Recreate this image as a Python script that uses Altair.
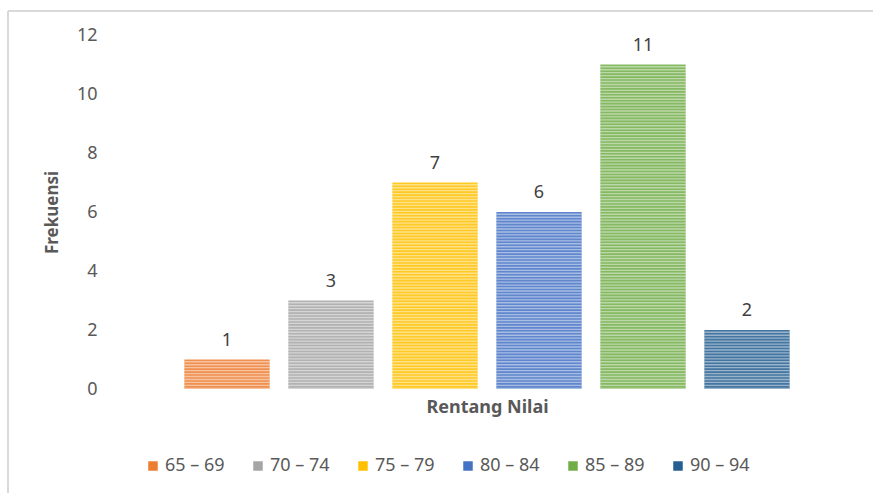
import altair as alt
import pandas as pd

categories = ["65 – 69", "70 – 74", "75 – 79", "80 – 84", "85 – 89", "90 – 94"]
frequencies = [1, 3, 7, 6, 11, 2]
colors = ["#ED7D31", "#A5A5A5", "#FFC000", "#4472C4", "#70AD47", "#255E91"]

df = pd.DataFrame({"Rentang": categories, "Frekuensi": frequencies})

FONT = "Noto Sans"
x_enc = alt.X("Rentang:N", sort=categories,
              scale=alt.Scale(paddingInner=0.18, paddingOuter=0.09),
              axis=alt.Axis(labels=False, ticks=False, domain=False, grid=False,
                            title="Rentang Nilai", titleFont=FONT, titleFontSize=18,
                            titleFontWeight="bold", titleColor="#595959", titlePadding=9))
y_scale = alt.Scale(domain=[0, 12])

bars = alt.Chart(df).mark_bar(opacity=0.85).encode(
    x=x_enc,
    y=alt.Y("Frekuensi:Q", scale=y_scale,
            axis=alt.Axis(values=[0, 2, 4, 6, 8, 10, 12], domain=False, ticks=False, grid=False,
                          labelPadding=78, labelFont=FONT, labelFontSize=18, labelColor="#595959",
                          title="Frekuensi", titleFont=FONT, titleFontSize=17, titleFontWeight="bold",
                          titleColor="#595959", titleX=-123, titleY=177, titleAngle=-90,
                          titleAlign="center", titleBaseline="middle")),
    color=alt.Color("Rentang:N", sort=categories,
                    scale=alt.Scale(domain=categories, range=colors),
                    legend=alt.Legend(title=None, orient="none", legendX=-31, legendY=422,
                                      direction="horizontal", columns=6, symbolType="square",
                                      symbolSize=90, symbolStrokeWidth=0, symbolOpacity=1,
                                      labelFont=FONT, labelFontSize=18, labelColor="#595959",
                                      columnPadding=24, labelOffset=3)),
)

stripes = alt.Chart(df).transform_calculate(
    s="sequence(0, datum.Frekuensi, 0.1)"
).transform_flatten(["s"]).transform_calculate(
    s2="datum.s + 0.045"
).mark_bar(color="white", opacity=0.45).encode(
    x=alt.X("Rentang:N", sort=categories),
    y=alt.Y("s:Q", scale=y_scale),
    y2="s2:Q",
)

labels = alt.Chart(df).mark_text(baseline="bottom", dy=-10, font=FONT, fontSize=18,
                                 color="#404040").encode(
    x=alt.X("Rentang:N", sort=categories),
    y=alt.Y("Frekuensi:Q", scale=y_scale),
    text="Frekuensi:Q",
)

frame_left = alt.Chart(df).mark_rule(color="#D9D9D9", strokeWidth=1.5).encode(
    x=alt.value(-167), y=alt.value(-24), y2=alt.value(470))
frame_top = alt.Chart(df).mark_rule(color="#D9D9D9", strokeWidth=1.5).encode(
    x=alt.value(-167), x2=alt.value(700), y=alt.value(-24))

chart = alt.layer(frame_left, frame_top, bars, stripes, labels).properties(
    width=624, height=354,
    autosize=alt.AutoSizeParams(type="none"),
    padding={"left": 175, "top": 35, "right": 74, "bottom": 104},
).configure_view(stroke=None)

chart.save("out.html", embed_options={"renderer": "svg", "actions": False})
